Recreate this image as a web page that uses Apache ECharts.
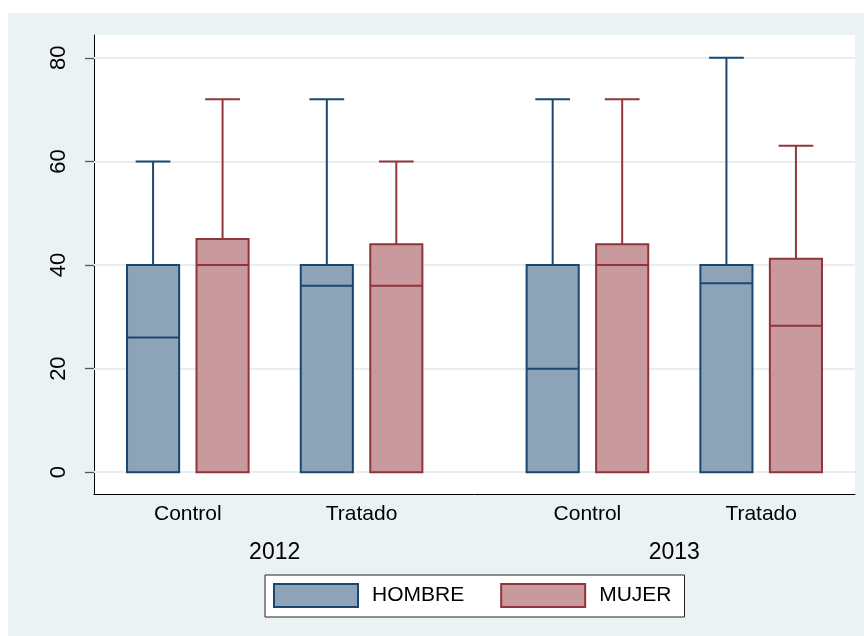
<!DOCTYPE html>
<html>
<head>
<meta charset="utf-8">
<title>Box plot by group and year</title>
<script src="https://cdn.jsdelivr.net/npm/echarts@6/dist/echarts.min.js"></script>
<style>
  html, body { margin: 0; padding: 0; background: #ffffff; }
  #chart { width: 864px; height: 636px; }
</style>
</head>
<body>
<div id="chart"></div>
<script>
// Groups along the horizontal axis, each nested in a year
const groups = ['Control', 'Tratado', 'Control', 'Tratado'];
const groupYear = ['2012', '2012', '2013', '2013'];
const years = ['2012', '2013'];
const yTicks = [0, 20, 40, 60, 80];

// Box statistics per group: lower adjacent, q1, median, q3, upper adjacent
const hombreMin = [0, 0, 0, 0];
const hombreQ1 = [0, 0, 0, 0];
const hombreMedian = [26, 36, 20, 36.5];
const hombreQ3 = [40, 40, 40, 40];
const hombreMax = [60, 72, 72, 80];

const mujerMin = [0, 0, 0, 0];
const mujerQ1 = [0, 0, 0, 0];
const mujerMedian = [40, 36, 40, 28.3];
const mujerQ3 = [45, 44, 44, 41.2];
const mujerMax = [72, 60, 72, 63];

const NAVY = '#1A476F', NAVY_FILL = '#8DA3B7';
const MAROON = '#90353B', MAROON_FILL = '#C89A9D';
const FONT = '"Liberation Sans", Arial, Helvetica, sans-serif';

// Horizontal layout in axis units: boxes one unit apart inside a group,
// groups 2.5 units apart, with extra space between years.
const groupCenter = groups.map((g, i) => i * 2.5 + years.indexOf(groupYear[i]) * 0.75);
const yearCenter = years.map(y => {
  const c = groupCenter.filter((_, i) => groupYear[i] === y);
  return c.reduce((a, b) => a + b, 0) / c.length;
});
const BOX_W = 0.75;
const X_MIN = groupCenter[0] - 0.5 - 0.85;
const X_MAX = groupCenter[groupCenter.length - 1] + 0.5 + 0.85;

function boxData(offset, mn, q1, med, q3, mx) {
  return groupCenter.map((c, i) => [c + offset, mn[i], q1[i], med[i], q3[i], mx[i]]);
}

function makeRenderer(stroke, fill) {
  return function (params, api) {
    const x = api.value(0);
    const w = api.size([BOX_W, 0])[0];
    const capW = w * 2 / 3;
    const pMin = api.coord([x, api.value(1)]);
    const pQ1 = api.coord([x, api.value(2)]);
    const pMed = api.coord([x, api.value(3)]);
    const pQ3 = api.coord([x, api.value(4)]);
    const pMax = api.coord([x, api.value(5)]);
    const cx = pMed[0];
    const line = (x1, y1, x2, y2) => ({
      type: 'line',
      shape: { x1, y1, x2, y2 },
      style: { stroke, lineWidth: 2 }
    });
    const children = [];
    if (pMax[1] < pQ3[1]) {
      children.push(line(cx, pQ3[1], cx, pMax[1]));
      children.push(line(cx - capW / 2, pMax[1], cx + capW / 2, pMax[1]));
    }
    if (pMin[1] > pQ1[1]) {
      children.push(line(cx, pQ1[1], cx, pMin[1]));
      children.push(line(cx - capW / 2, pMin[1], cx + capW / 2, pMin[1]));
    }
    children.push({
      type: 'rect',
      shape: { x: cx - w / 2, y: pQ3[1], width: w, height: pQ1[1] - pQ3[1] },
      style: { fill, stroke, lineWidth: 2 }
    });
    children.push(line(cx - w / 2, pMed[1], cx + w / 2, pMed[1]));
    return { type: 'group', children };
  };
}

const chart = echarts.init(document.getElementById('chart'), null, { renderer: 'canvas' });

chart.setOption({
  animation: false,
  backgroundColor: '#EAF2F3',
  graphic: [
    { type: 'rect', z: 100, shape: { x: 0, y: 0, width: 864, height: 13 }, style: { fill: '#ffffff' } },
    { type: 'rect', z: 100, shape: { x: 0, y: 0, width: 8, height: 636 }, style: { fill: '#ffffff' } }
  ],
  grid: {
    left: 94, right: 9, top: 35, bottom: 142,
    show: true, backgroundColor: '#ffffff', borderWidth: 0
  },
  legend: {
    left: 265, top: 575,
    orient: 'horizontal',
    padding: [8, 13, 9, 8],
    itemWidth: 84, itemHeight: 23, itemGap: 36,
    backgroundColor: '#ffffff',
    borderColor: '#222222', borderWidth: 1,
    textStyle: { fontFamily: FONT, fontSize: 21, color: '#000', padding: [0, 0, 0, 9] },
    data: [
      { name: 'HOMBRE', icon: 'rect', itemStyle: { color: NAVY_FILL, borderColor: NAVY, borderWidth: 2 } },
      { name: 'MUJER', icon: 'rect', itemStyle: { color: MAROON_FILL, borderColor: MAROON, borderWidth: 2 } }
    ]
  },
  xAxis: [
    {
      type: 'value', min: X_MIN, max: X_MAX,
      axisLine: { show: true, onZero: false, lineStyle: { color: '#000', width: 1 } },
      axisTick: { show: false },
      splitLine: { show: false },
      axisLabel: {
        customValues: groupCenter,
        formatter: v => groups[groupCenter.indexOf(v)] || '',
        margin: 10,
        fontFamily: FONT, fontSize: 21, color: '#000'
      }
    },
    {
      type: 'value', min: X_MIN, max: X_MAX, position: 'bottom',
      axisLine: { show: false, onZero: false },
      axisTick: { show: false },
      splitLine: { show: false },
      axisLabel: {
        customValues: yearCenter,
        formatter: v => years[yearCenter.indexOf(v)] || '',
        margin: 47,
        fontFamily: FONT, fontSize: 23, color: '#000'
      }
    }
  ],
  yAxis: {
    type: 'value', min: -4.2, max: 84.4,
    axisLine: { show: true, onZero: false, lineStyle: { color: '#000', width: 1 } },
    axisTick: { show: true, customValues: yTicks, length: 9, lineStyle: { color: '#555', width: 1.3 } },
    splitLine: { show: false },
    axisLabel: {
      customValues: yTicks,
      rotate: 90,
      margin: 24,
      fontFamily: FONT, fontSize: 22, color: '#000'
    }
  },
  series: [
    {
      // horizontal grid lines at the labelled ticks
      type: 'line', name: 'grid', data: [], z: 1, silent: true,
      markLine: {
        z: 1, silent: true, symbol: 'none', animation: false,
        label: { show: false },
        lineStyle: { color: '#E6EEF0', width: 2, type: 'solid' },
        data: yTicks.map(v => ({ yAxis: v }))
      }
    },
    {
      type: 'custom', name: 'HOMBRE', z: 3,
      itemStyle: { color: NAVY_FILL, borderColor: NAVY },
      renderItem: makeRenderer(NAVY, NAVY_FILL),
      encode: { x: 0, y: [1, 2, 3, 4, 5] },
      data: boxData(-0.5, hombreMin, hombreQ1, hombreMedian, hombreQ3, hombreMax)
    },
    {
      type: 'custom', name: 'MUJER', z: 3,
      itemStyle: { color: MAROON_FILL, borderColor: MAROON },
      renderItem: makeRenderer(MAROON, MAROON_FILL),
      encode: { x: 0, y: [1, 2, 3, 4, 5] },
      data: boxData(0.5, mujerMin, mujerQ1, mujerMedian, mujerQ3, mujerMax)
    }
  ]
});
</script>
</body>
</html>
